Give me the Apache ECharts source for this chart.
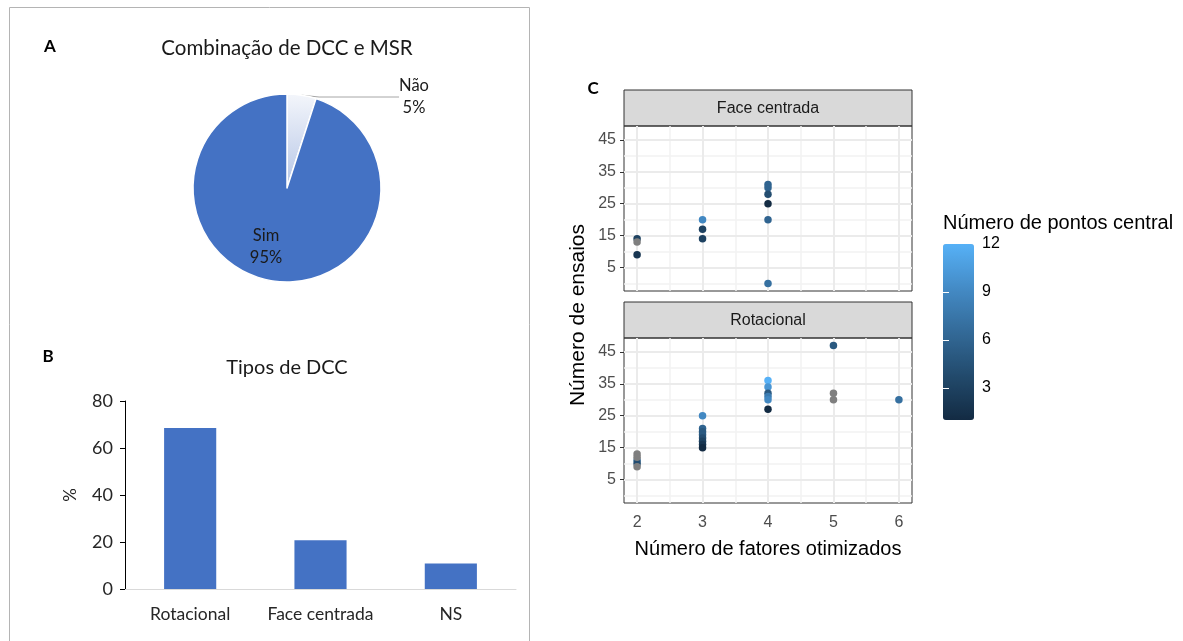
<!DOCTYPE html>
<html><head><meta charset="utf-8">
<script src="https://cdn.jsdelivr.net/npm/echarts@6/dist/echarts.min.js"></script>
<style>html,body{margin:0;padding:0;background:#fff}#c{width:1183px;height:641px}</style>
</head><body><div id="c"></div>
<script>
// ---- A: pie ----
const pieNames = ['Não', 'Sim'];
const pieValues = [5, 95];
// ---- B: bars ----
const barCategories = ['Rotacional', 'Face centrada', 'NS'];
const barValues = [68.5, 20.7, 10.8];
const barTicks = [0, 20, 40, 60, 80];
// ---- C: scatter facets (x = fatores, y = ensaios, c = pontos centrais, null = NA) ----
const faceX = [2, 2, 2, 3, 3, 3, 4, 4, 4, 4, 4, 4];
const faceY = [14, 13, 9, 20, 17, 14, 31, 30, 28, 25, 20, 0];
const faceC = [3, null, 2, 9, 3, 3, 6, 6, 4, 1, 6, 7];
const rotX = [2, 2, 2, 2, 2, 3, 3, 3, 3, 3, 3, 3, 3, 4, 4, 4, 4, 4, 4, 5, 5, 5, 6];
const rotY = [13, 12, 11, 10, 9, 25, 21, 20, 19, 18, 17, 16, 15, 36, 34, 32, 31, 30, 27, 47, 32, 30, 30];
const rotC = [null, null, 6, 4, null, 9, 6, 5, 5, 4, 3, 2, 1, 12, 10, 5, 8, 9, 1, 5, null, null, 7];
const xTicks = [2, 3, 4, 5, 6];
const xMinor = [2.5, 3.5, 4.5, 5.5];
const yTicks = [5, 15, 25, 35, 45];
const yMinor = [0, 10, 20, 30, 40];
const legendTicks = [3, 6, 9, 12];
const legendMin = 1, legendMax = 12;

// ggplot-like 5% expansion of the shared scales
const allX = faceX.concat(rotX), allY = faceY.concat(rotY);
function expand(arr) {
  const lo = Math.min(...arr), hi = Math.max(...arr), d = (hi - lo) * 0.05;
  return [lo - d, hi + d];
}
const [xMin, xMax] = expand(allX);
const [yMin, yMax] = expand(allY);

const colored = (X, Y, C) => X.map((x, i) => [x, Y[i], C[i]]).filter(p => p[2] !== null);
const missing = (X, Y, C) => X.map((x, i) => [x, Y[i]]).filter((p, i) => C[i] === null);

const GG = 'Liberation Sans, Arial, sans-serif';
const CAL = 'Lato, Open Sans, sans-serif';

function facetX(gi, showLabels) {
  return {
    type: 'value', gridIndex: gi, min: xMin, max: xMax,
    axisLine: { show: false },
    axisTick: { show: true, customValues: xTicks, length: 4, lineStyle: { color: '#333', width: 1 } },
    axisLabel: { show: showLabels, customValues: xTicks, color: '#4d4d4d', fontFamily: GG, fontSize: 16, margin: 12 },
    splitLine: { show: false },
    name: showLabels ? 'Número de fatores otimizados' : '',
    nameLocation: 'middle', nameGap: 36,
    nameTextStyle: { color: '#000', fontFamily: GG, fontSize: 20 }
  };
}
function facetY(gi) {
  return {
    type: 'value', gridIndex: gi, min: yMin, max: yMax,
    axisLine: { show: false },
    axisTick: { show: true, customValues: yTicks, length: 4, lineStyle: { color: '#333', width: 1 } },
    axisLabel: { customValues: yTicks, color: '#4d4d4d', fontFamily: GG, fontSize: 16, margin: 8 },
    splitLine: { show: false }
  };
}
function gridLines(axIdx) {
  const major = { color: '#ebebeb', width: 2, type: 'solid' };
  const minor = { color: '#f2f2f2', width: 1.5, type: 'solid' };
  return {
    type: 'line', xAxisIndex: axIdx, yAxisIndex: axIdx, data: [], z: 1, silent: true,
    markLine: {
      silent: true, symbol: 'none', label: { show: false }, animation: false,
      data: [].concat(
        yMinor.map(v => ({ yAxis: v, lineStyle: minor })),
        xMinor.map(v => ({ xAxis: v, lineStyle: minor })),
        yTicks.map(v => ({ yAxis: v, lineStyle: major })),
        xTicks.map(v => ({ xAxis: v, lineStyle: major }))
      )
    }
  };
}
const pointStyle = { opacity: 1 };

const chart = echarts.init(document.getElementById('c'));
chart.setOption({
  animation: false,
  backgroundColor: '#fff',
  grid: [
    { left: 125, top: 401, width: 391, height: 188 },
    { left: 624, top: 126, width: 288, height: 165, show: true, borderColor: '#333', borderWidth: 1, backgroundColor: 'transparent', z: 3 },
    { left: 624, top: 338, width: 288, height: 165, show: true, borderColor: '#333', borderWidth: 1, backgroundColor: 'transparent', z: 3 },
    { left: 943, top: 244, width: 31, height: 176 }
  ],
  xAxis: [
    {
      type: 'category', gridIndex: 0, data: barCategories,
      axisLine: { lineStyle: { color: '#d9d9d9', width: 1 } },
      axisTick: { show: false },
      axisLabel: { color: '#262626', fontFamily: CAL, fontSize: 17.5, margin: 16, interval: 0 }
    },
    facetX(1, false),
    facetX(2, true),
    { type: 'value', gridIndex: 3, show: false }
  ],
  yAxis: [
    {
      type: 'value', gridIndex: 0, min: barTicks[0], max: barTicks[barTicks.length - 1], interval: 20,
      axisLine: { show: true, lineStyle: { color: '#000', width: 1 } },
      axisTick: { show: true, length: 5, lineStyle: { color: '#000' } },
      axisLabel: { color: '#262626', fontFamily: CAL, fontSize: 18, margin: 12 },
      splitLine: { show: false },
      name: '%', nameLocation: 'middle', nameGap: 46, nameRotate: 90,
      nameTextStyle: { color: '#262626', fontFamily: CAL, fontSize: 17 }
    },
    facetY(1),
    facetY(2),
    {
      type: 'value', gridIndex: 3, min: legendMin, max: legendMax, position: 'right', z: 10,
      axisLine: { show: false },
      axisTick: { show: true, inside: true, customValues: legendTicks.slice(0, 3), length: 6, lineStyle: { color: '#fff', width: 1 } },
      axisLabel: { customValues: legendTicks, color: '#000', fontFamily: GG, fontSize: 16, margin: 8 },
      splitLine: { show: false }
    },
    {
      type: 'value', gridIndex: 3, min: legendMin, max: legendMax, position: 'left', z: 10,
      axisLine: { show: false },
      axisTick: { show: true, inside: true, customValues: legendTicks.slice(0, 3), length: 6, lineStyle: { color: '#fff', width: 1 } },
      axisLabel: { show: false },
      splitLine: { show: false }
    }
  ],
  visualMap: [{
    type: 'continuous', min: legendMin, max: legendMax, dimension: 2, seriesIndex: [4, 6],
    inRange: { color: ['#132B43', '#224A6C', '#336A98', '#448BC6', '#56B1F7'] },
    left: 943, top: 244, itemWidth: 31, itemHeight: 176, padding: 0,
    calculable: false, orient: 'vertical', hoverLink: false, z: 4
  }],
  series: [
    {
      type: 'bar', xAxisIndex: 0, yAxisIndex: 0, data: barValues, barWidth: '40%',
      itemStyle: { color: '#4472C4' }
    },
    {
      type: 'pie', center: [287, 188], radius: 94, startAngle: 90, clockwise: true,
      data: pieNames.map((n, i) => ({ name: n, value: pieValues[i], labelLine: { show: i === 0 } })),
      itemStyle: { borderColor: '#fff', borderWidth: 1.5 },
      color: [
        new echarts.graphic.LinearGradient(0, 0, 0, 1, [{ offset: 0, color: '#f4f6fb' }, { offset: 1, color: '#b4c5e6' }]),
        '#4472C4'
      ],
      label: {
        show: true, formatter: '{b}\n{d}%', color: '#1a1a1a', fontFamily: CAL, fontSize: 16.5, lineHeight: 22, align: 'center'
      },
      labelLine: { length: 4, length2: 80, lineStyle: { color: '#a6a6a6', width: 1 } },
      labelLayout: function (p) {
        if (p.dataIndex === 0) return { x: 414, y: 97, align: 'center', verticalAlign: 'middle' };
        return { x: 266, y: 247, align: 'center', verticalAlign: 'middle' };
      }
    },
    gridLines(1),
    gridLines(2),
    { type: 'scatter', xAxisIndex: 1, yAxisIndex: 1, data: colored(faceX, faceY, faceC), symbolSize: 7.5, z: 5, itemStyle: pointStyle },
    { type: 'scatter', xAxisIndex: 1, yAxisIndex: 1, data: missing(faceX, faceY, faceC), symbolSize: 7.5, z: 5, itemStyle: { color: '#7f7f7f', opacity: 1 } },
    { type: 'scatter', xAxisIndex: 2, yAxisIndex: 2, data: colored(rotX, rotY, rotC), symbolSize: 7.5, z: 5, itemStyle: pointStyle },
    { type: 'scatter', xAxisIndex: 2, yAxisIndex: 2, data: missing(rotX, rotY, rotC), symbolSize: 7.5, z: 5, itemStyle: { color: '#7f7f7f', opacity: 1 } }
  ],
  graphic: [
    { type: 'rect', shape: { x: 9.5, y: 7.5, width: 520, height: 700 }, style: { fill: 'none', stroke: '#b4b4b4', lineWidth: 1 }, z: -1, silent: true },
    { type: 'text', x: 50, y: 47, style: { text: 'A', font: 'bold 17px ' + CAL, fill: '#000', align: 'center', verticalAlign: 'middle' } },
    { type: 'text', x: 287, y: 48, style: { text: 'Combinação de DCC e MSR', font: '20.5px ' + CAL, fill: '#1a1a1a', align: 'center', verticalAlign: 'middle' } },
    { type: 'text', x: 48, y: 357, style: { text: 'B', font: 'bold 17px ' + CAL, fill: '#000', align: 'center', verticalAlign: 'middle' } },
    { type: 'text', x: 287, y: 368, style: { text: 'Tipos de DCC', font: '20px ' + CAL, fill: '#1a1a1a', align: 'center', verticalAlign: 'middle' } },
    { type: 'text', x: 593, y: 89, style: { text: 'C', font: 'bold 17px ' + CAL, fill: '#000', align: 'center', verticalAlign: 'middle' } },
    { type: 'rect', shape: { x: 624, y: 90, width: 288, height: 36 }, style: { fill: '#d9d9d9', stroke: '#333', lineWidth: 1 } },
    { type: 'text', x: 768, y: 109, style: { text: 'Face centrada', font: '16px ' + GG, fill: '#1a1a1a', align: 'center', verticalAlign: 'middle' } },
    { type: 'rect', shape: { x: 624, y: 302, width: 288, height: 36 }, style: { fill: '#d9d9d9', stroke: '#333', lineWidth: 1 } },
    { type: 'text', x: 768, y: 321, style: { text: 'Rotacional', font: '16px ' + GG, fill: '#1a1a1a', align: 'center', verticalAlign: 'middle' } },
    { type: 'text', x: 578, y: 315, rotation: Math.PI / 2, style: { text: 'Número de ensaios', font: '21px ' + GG, fill: '#000', align: 'center', verticalAlign: 'middle' } },
    { type: 'text', x: 943, y: 223, style: { text: 'Número de pontos central', font: '20px ' + GG, fill: '#000', align: 'left', verticalAlign: 'middle' } }
  ]
});
</script>
</body></html>
